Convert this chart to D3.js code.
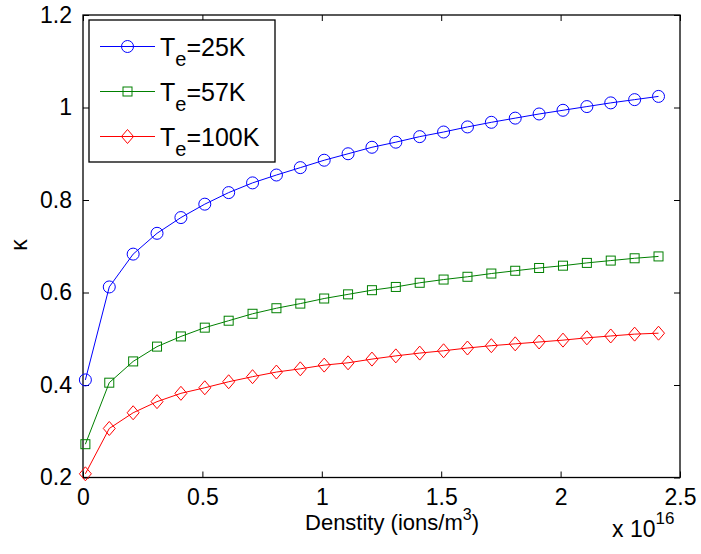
<!DOCTYPE html>
<html><head><meta charset="utf-8">
<script src="https://cdn.jsdelivr.net/npm/d3@7"></script>
<style>body{margin:0;background:#fff}svg{display:block}</style>
</head><body><svg id="c" width="701" height="554"></svg>
<script>
const density = [0.01e16,0.11e16,0.21e16,0.31e16,0.41e16,0.51e16,0.61e16,0.71e16,0.81e16,0.91e16,1.01e16,1.11e16,1.21e16,1.31e16,1.41e16,1.51e16,1.61e16,1.71e16,1.81e16,1.91e16,2.01e16,2.11e16,2.21e16,2.31e16,2.41e16];
const kappa25 = [0.411,0.612,0.683,0.728,0.762,0.791,0.816,0.837,0.854,0.870,0.886,0.900,0.914,0.925,0.937,0.947,0.958,0.968,0.977,0.986,0.994,1.002,1.010,1.017,1.024];
const kappa57 = [0.272,0.405,0.451,0.483,0.505,0.524,0.539,0.554,0.566,0.576,0.587,0.596,0.605,0.612,0.621,0.628,0.634,0.641,0.647,0.653,0.658,0.664,0.669,0.674,0.678];
const kappa100 = [0.208,0.306,0.340,0.364,0.382,0.394,0.407,0.418,0.428,0.435,0.443,0.448,0.456,0.463,0.469,0.474,0.480,0.485,0.489,0.493,0.497,0.502,0.506,0.510,0.512];
const seriesNames = ["25K","57K","100K"];
const seriesColors = ["#0000ff","#008000","#ff0000"];
const xTicks = [0,0.5e16,1e16,1.5e16,2e16,2.5e16];
const xTickLabels = ["0","0.5","1","1.5","2","2.5"];
const yTicks = [0.2,0.4,0.6,0.8,1.0,1.2];
const yTickLabels = ["0.2","0.4","0.6","0.8","1","1.2"];

const svg = d3.select("#c");
const L=83, R=680, T=15, B=477.5;
const x = d3.scaleLinear().domain([0,2.5e16]).range([L,R]);
const y = d3.scaleLinear().domain([0.2,1.2]).range([B,T]);
const font = "'Liberation Sans', Arial, sans-serif";
const fs = 23;

svg.append("rect").attr("x",L).attr("y",T).attr("width",R-L).attr("height",B-T)
  .attr("fill","none").attr("stroke","#000").attr("stroke-width",1.3);

const tl = 6;
const gx = svg.append("g").attr("transform",`translate(0,${B})`)
  .call(d3.axisBottom(x).tickValues(xTicks).tickFormat((d,i)=>xTickLabels[i]).tickSizeInner(-tl).tickSizeOuter(0).tickPadding(14));
const gxt = svg.append("g").attr("transform",`translate(0,${T})`)
  .call(d3.axisTop(x).tickValues(xTicks).tickFormat("").tickSizeInner(-tl).tickSizeOuter(0));
const gy = svg.append("g").attr("transform",`translate(${L},0)`)
  .call(d3.axisLeft(y).tickValues(yTicks).tickFormat((d,i)=>yTickLabels[i]).tickSizeInner(-tl).tickSizeOuter(0).tickPadding(11));
const gyr = svg.append("g").attr("transform",`translate(${R},0)`)
  .call(d3.axisRight(y).tickValues(yTicks).tickFormat("").tickSizeInner(-tl).tickSizeOuter(0));
[gx,gxt,gy,gyr].forEach(g=>{
  g.select(".domain").remove();
  g.selectAll("line").attr("stroke","#000").attr("stroke-width",1);
  g.selectAll("text").attr("font-family",font).attr("font-size",fs).attr("fill","#000");
});
gx.selectAll("text").attr("dy","0.71em").attr("y",11);

const allSeries = [kappa25,kappa57,kappa100];
const line = d3.line().x((d,i)=>x(density[i])).y(d=>y(d));
function marker(g, kind, cx, cy, color){
  if(kind===0) g.append("circle").attr("cx",cx).attr("cy",cy).attr("r",6).attr("fill","none").attr("stroke",color).attr("stroke-width",1);
  else if(kind===1) g.append("rect").attr("x",cx-4.5).attr("y",cy-4.5).attr("width",9).attr("height",9).attr("fill","none").attr("stroke",color).attr("stroke-width",1);
  else g.append("path").attr("d",`M${cx},${cy-7}L${cx+6},${cy}L${cx},${cy+7}L${cx-6},${cy}Z`).attr("fill","none").attr("stroke",color).attr("stroke-width",1);
}
allSeries.forEach((vals,si)=>{
  const g = svg.append("g");
  g.append("path").attr("d",line(vals)).attr("fill","none").attr("stroke",seriesColors[si]).attr("stroke-width",1);
  vals.forEach((v,i)=>marker(g,si,x(density[i]),y(v),seriesColors[si]));
});

const lg = svg.append("g");
lg.append("rect").attr("x",89).attr("y",20).attr("width",186).attr("height",142)
  .attr("fill","#fff").attr("stroke","#000").attr("stroke-width",1.3);
seriesNames.forEach((n,i)=>{
  const cy = 46.5 + i*45;
  lg.append("line").attr("x1",100).attr("x2",155).attr("y1",cy).attr("y2",cy).attr("stroke",seriesColors[i]).attr("stroke-width",1);
  marker(lg,i,127.5,cy,seriesColors[i]);
  const t = lg.append("text").attr("x",160).attr("y",cy+9).attr("font-family",font).attr("font-size",fs+2).attr("fill","#000");
  t.append("tspan").text("T");
  t.append("tspan").attr("dy",10).attr("font-size",fs-3).text("e");
  t.append("tspan").attr("dy",-10).text("="+n);
});

const xl = svg.append("text").attr("x",392).attr("y",530).attr("text-anchor","middle")
  .attr("font-family",font).attr("font-size",fs-1).attr("fill","#000");
xl.append("tspan").text("Denstity (ions/m");
xl.append("tspan").attr("dy",-10).attr("font-size",fs-7).text("3");
xl.append("tspan").attr("dy",10).text(")");

const xm = svg.append("text").attr("x",612).attr("y",537)
  .attr("font-family",font).attr("font-size",fs).attr("fill","#000");
xm.append("tspan").text("x 10");
xm.append("tspan").attr("dy",-13).attr("font-size",fs-6).text("16");

svg.append("text").attr("transform","translate(27,245) rotate(-90)").attr("text-anchor","middle")
  .attr("font-family",font).attr("font-size",fs).attr("fill","#000").text("κ");
</script></body></html>
